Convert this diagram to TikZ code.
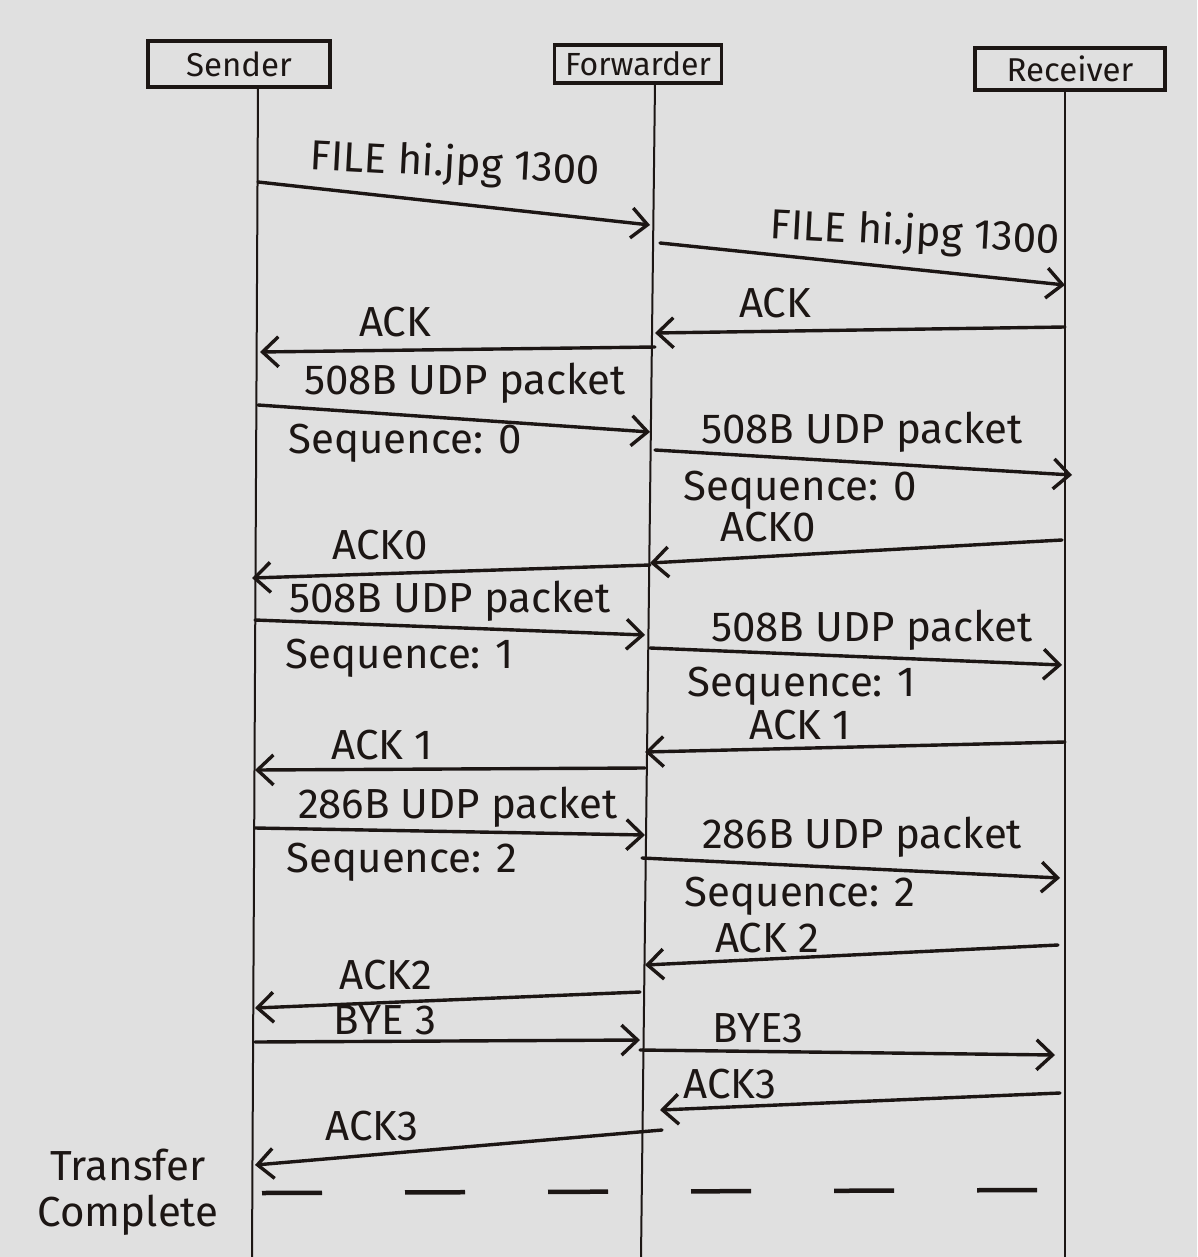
\documentclass[tikz,border=0pt]{standalone}
\usepackage{fontspec}
\setmainfont{Fira Sans}
\usetikzlibrary{arrows.meta}
\definecolor{paper}{RGB}{224,224,224}
\definecolor{ink}{RGB}{28,22,20}
\tikzset{
  actor/.style={draw=ink, line width=3.4pt, inner sep=0pt, text=ink,
    font=\fontsize{33}{38}\selectfont},
  life/.style={draw=ink, line width=2pt},
  msg/.style={draw=ink, line width=3.4pt, line cap=round,
    -{Straight Barb[length=16pt,width=30pt,line width=3.4pt]}},
  lbl/.style={text=ink, inner sep=0pt, font=\fontsize{42}{46}\selectfont},
  endline/.style={draw=ink, line width=4.5pt, dash pattern=on 60pt off 83pt}
}
\begin{document}
\begin{tikzpicture}[x=1pt,y=-1pt]
  \fill[paper] (0,0) rectangle (1197,1257);
  \useasboundingbox (0,0) rectangle (1197,1257);

  % participants
  \node[actor, minimum width=182pt, minimum height=46pt] (sender) at (239,64) {Sender};
  \node[actor, minimum width=167pt, minimum height=38pt,
        font=\fontsize{32}{36}\selectfont] (fwd) at (638,64) {Forwarder};
  \node[actor, minimum width=190pt, minimum height=42pt] (recv) at (1070,69) {Receiver};

  % lifelines
  \coordinate (sTop) at (258,88);  \coordinate (sBot) at (252,1257);
  \coordinate (fTop) at (655,83);  \coordinate (fBot) at (641,1257);
  \coordinate (rTop) at (1065,90); \coordinate (rBot) at (1065,1257);
  \draw[life] (sTop) -- (sBot);
  \draw[life] (fTop) -- (fBot);
  \draw[life] (rTop) -- (rBot);

  % file announcement
  \coordinate (a1) at (258,182);  \coordinate (b1) at (650,225);
  \draw[msg] (a1) -- (b1);
  \node[lbl, rotate=-3] (t1) at (455,165) {FILE hi.jpg 1300};
  \coordinate (a2) at (660,243);  \coordinate (b2) at (1065,285);
  \draw[msg] (a2) -- (b2);
  \node[lbl, rotate=-3] (t2) at (915,234) {FILE hi.jpg 1300};

  % acknowledgements of the announcement
  \coordinate (a3) at (1065,327); \coordinate (b3) at (655,333);
  \draw[msg] (a3) -- (b3);
  \node[lbl] (t3) at (775,303) {ACK};
  \coordinate (a4) at (655,347);  \coordinate (b4) at (260,352);
  \draw[msg] (a4) -- (b4);
  \node[lbl] (t4) at (395,322) {ACK};

  % packet 0
  \coordinate (a5) at (258,405);  \coordinate (b5) at (650,432);
  \draw[msg] (a5) -- (b5);
  \node[lbl] (t5) at (465,383) {508B UDP packet};
  \node[lbl] (u5) at (405,443) {Sequence: 0};
  \coordinate (a6) at (655,450);  \coordinate (b6) at (1072,475);
  \draw[msg] (a6) -- (b6);
  \node[lbl] (t6) at (862,432) {508B UDP packet};
  \node[lbl] (u6) at (800,490) {Sequence: 0};
  \coordinate (a7) at (1062,540); \coordinate (b7) at (650,563);
  \draw[msg] (a7) -- (b7);
  \node[lbl] (t7) at (768,527) {ACK0};
  \coordinate (a8) at (650,565);  \coordinate (b8) at (252,578);
  \draw[msg] (a8) -- (b8);
  \node[lbl] (t8) at (380,545) {ACK0};

  % packet 1
  \coordinate (a9) at (255,620);  \coordinate (b9) at (645,635);
  \draw[msg] (a9) -- (b9);
  \node[lbl] (t9) at (450,601) {508B UDP packet};
  \node[lbl] (u9) at (400,658) {Sequence: 1};
  \coordinate (a10) at (650,648); \coordinate (b10) at (1062,665);
  \draw[msg] (a10) -- (b10);
  \node[lbl] (t10) at (872,630) {508B UDP packet};
  \node[lbl] (u10) at (802,686) {Sequence: 1};
  \coordinate (a11) at (1065,742); \coordinate (b11) at (645,752);
  \draw[msg] (a11) -- (b11);
  \node[lbl] (t11) at (800,725) {ACK 1};
  \coordinate (a12) at (645,768); \coordinate (b12) at (255,770);
  \draw[msg] (a12) -- (b12);
  \node[lbl] (t12) at (382,745) {ACK 1};

  % packet 2
  \coordinate (a13) at (255,828); \coordinate (b13) at (645,835);
  \draw[msg] (a13) -- (b13);
  \node[lbl] (t13) at (458,807) {286B UDP packet};
  \node[lbl] (u13) at (402,862) {Sequence: 2};
  \coordinate (a14) at (642,858); \coordinate (b14) at (1060,878);
  \draw[msg] (a14) -- (b14);
  \node[lbl] (t14) at (862,837) {286B UDP packet};
  \node[lbl] (u14) at (800,896) {Sequence: 2};
  \coordinate (a15) at (1058,945); \coordinate (b15) at (645,965);
  \draw[msg] (a15) -- (b15);
  \node[lbl] (t15) at (767,938) {ACK 2};
  \coordinate (a16) at (640,992); \coordinate (b16) at (255,1008);
  \draw[msg] (a16) -- (b16);
  \node[lbl] (t16) at (386,975) {ACK2};

  % closing
  \coordinate (a17) at (255,1042); \coordinate (b17) at (640,1040);
  \draw[msg] (a17) -- (b17);
  \node[lbl] (t17) at (385,1020) {BYE 3};
  \coordinate (a18) at (640,1050); \coordinate (b18) at (1055,1055);
  \draw[msg] (a18) -- (b18);
  \node[lbl] (t18) at (758,1028) {BYE3};
  \coordinate (a19) at (1060,1093); \coordinate (b19) at (660,1110);
  \draw[msg] (a19) -- (b19);
  \node[lbl] (t19) at (730,1084) {ACK3};
  \coordinate (a20) at (662,1130); \coordinate (b20) at (255,1165);
  \draw[msg] (a20) -- (b20);
  \node[lbl] (t20) at (372,1126) {ACK3};

  % end of transfer
  \coordinate (d1) at (262,1193); \coordinate (d2) at (1040,1190);
  \draw[endline] (d1) -- (d2);
  \node[lbl, align=center] (done) at (128,1192) {Transfer\\Complete};
\end{tikzpicture}
\end{document}
